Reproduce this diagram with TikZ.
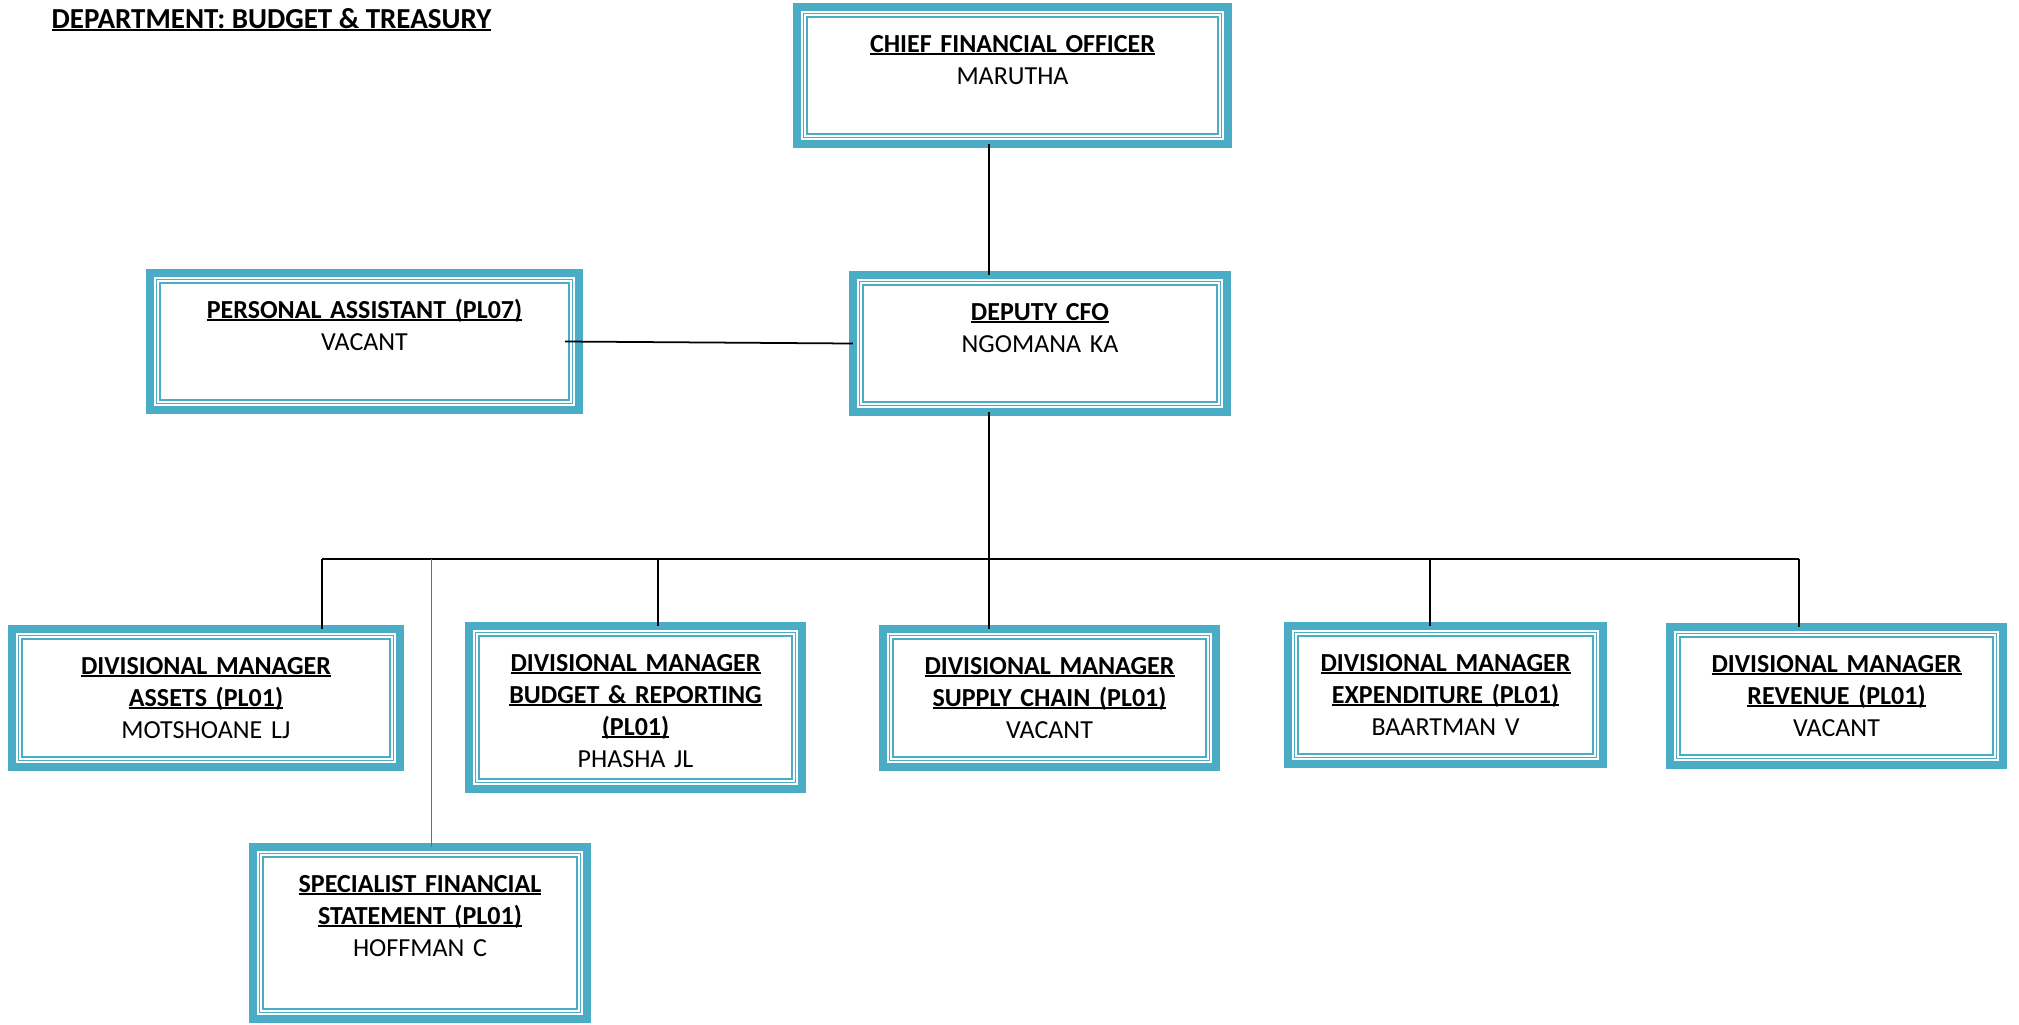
\documentclass[tikz,border=0pt]{standalone}
\usepackage{fontspec}
\setmainfont{Carlito}
\usepackage{tikz}
\usepackage{xcolor}

\definecolor{boxteal}{HTML}{4BACC6}
\definecolor{lineblue}{HTML}{4472C4}

% bold heading line, underlined over its whole width
\newcommand{\headline}[1]{\leavevmode\setbox0\hbox{\bfseries #1}\rlap{\rule[-0.8pt]{\wd0}{0.55pt}}\box0}

\tikzset{
 post/.style 2 args={rectangle, draw=boxteal, line width=2.2pt, fill=white,
  text width=#1cm, text height=0.455cm, text depth=#2cm, align=center,
  inner sep=0pt, outer sep=0pt, font=\fontsize{7.4}{9.1}\selectfont,
  path picture={\draw[boxteal, line width=0.43pt, double=white, double distance=0.48pt]
   ([shift={(0.0835,0.0835)}]path picture bounding box.south west) rectangle
   ([shift={(-0.0835,-0.0835)}]path picture bounding box.north east);}},
 conn/.style={line width=0.5pt, black},
 sub/.style={line width=0.5pt, lineblue}
}

\begin{document}
\begin{tikzpicture}
\useasboundingbox (0,0) rectangle (20.19,-10.24);

\node[anchor=base west, inner sep=0pt, font=\fontsize{8.25}{10}\selectfont] (dept) at (0.51,-0.28)
 {\headline{DEPARTMENT: BUDGET \& TREASURY}};

\node[post={4.313}{0.918}] (cfo) at (10.125,-0.755) {\headline{CHIEF FINANCIAL OFFICER}\\MARUTHA};
\node[post={4.293}{0.918}] (pa) at (3.645,-3.415) {\headline{PERSONAL ASSISTANT (PL07)}\\VACANT};
\node[post={3.743}{0.918}] (dep) at (10.40,-3.435) {\headline{DEPUTY CFO}\\NGOMANA KA};

\node[post={3.883}{0.928}] (assets) at (2.06,-6.98) {\headline{DIVISIONAL MANAGER}\\\headline{ASSETS (PL01)}\\MOTSHOANE LJ};
\node[post={3.333}{1.178}] (budget) at (6.355,-7.075) {\headline{DIVISIONAL MANAGER}\\\headline{BUDGET \& REPORTING}\\\headline{(PL01)}\\PHASHA JL};
\node[post={3.333}{0.928}] (supply) at (10.495,-6.98) {\headline{DIVISIONAL MANAGER}\\\headline{SUPPLY CHAIN (PL01)}\\VACANT};
\node[post={3.153}{0.928}] (exp) at (14.455,-6.95) {\headline{DIVISIONAL MANAGER}\\\headline{EXPENDITURE (PL01)}\\BAARTMAN V};
\node[post={3.333}{0.928}] (rev) at (18.365,-6.96) {\headline{DIVISIONAL MANAGER}\\\headline{REVENUE (PL01)}\\VACANT};

\node[post={3.343}{1.268}] (spec) at (4.20,-9.33) {\headline{SPECIALIST FINANCIAL}\\\headline{STATEMENT (PL01)}\\HOFFMAN C};

\coordinate (busl) at (3.22,-5.59);
\coordinate (busr) at (17.99,-5.59);
\coordinate (spine) at (9.89,-5.59);
\coordinate (budgetdrop) at (6.58,-5.59);
\coordinate (expdrop) at (14.30,-5.59);
\coordinate (specdrop) at (4.315,-5.59);

\draw[conn] (cfo.south -| spine) -- (dep.north -| spine);
\draw[conn] ([xshift=-0.14cm]pa.east) -- (dep.west);
\draw[conn] (dep.south -| spine) -- (spine |- supply.north);
\draw[conn] (busl) -- (busr);

\draw[conn] (busl) -- (busl |- assets.north);
\draw[conn] (budgetdrop) -- (budgetdrop |- budget.north);
\draw[conn] (expdrop) -- (expdrop |- exp.north);
\draw[conn] (busr) -- (busr |- rev.north);

\draw[sub] (specdrop) -- (specdrop |- spec.north);
\end{tikzpicture}
\end{document}
